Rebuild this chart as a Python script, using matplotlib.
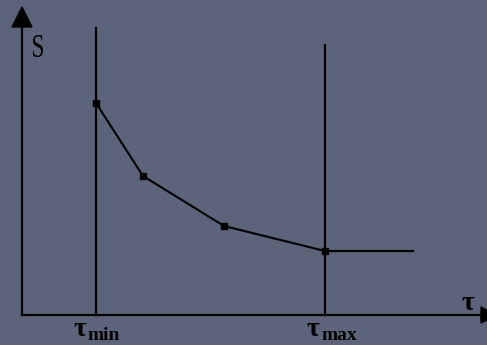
import matplotlib.pyplot as plt
from matplotlib.textpath import TextPath
from matplotlib.patches import PathPatch
from matplotlib.font_manager import FontProperties
from matplotlib.transforms import Affine2D

# data (origin of the drawn axes = (0, 0))
tau = [74, 121, 202, 303]
S = [212, 139, 89, 64]
tau_tail = 391          # horizontal continuation after tau_max
tau_min, tau_max = 74, 303
top_min, top_max = 287, 270

bg = '#5b6478'
serif = 'Liberation Serif'

fig = plt.figure(figsize=(4.87, 3.45), dpi=100, facecolor=bg)
ax = fig.add_axes([0, 0, 1, 1])
ax.set_facecolor(bg)
ax.set_xlim(-22, 465)
ax.set_ylim(-30, 315)
ax.axis('off')

# axes with arrows
ax.plot([0, 462], [0, 0], color='black', lw=1.6)
ax.plot([0, 0], [0, 290], color='black', lw=1.6)
ax.fill([-10, 10, 0], [288, 288, 308], color='black')
ax.fill([459, 459, 475], [-8, 8, 0], color='black')

# tau_min / tau_max verticals
ax.plot([tau_min, tau_min], [0, top_min], color='black', lw=1.6)
ax.plot([tau_max, tau_max], [0, top_max], color='black', lw=1.6)

# curve
ax.plot(tau, S, color='black', lw=1.5, marker='s', ms=4.5)
ax.plot([tau[-1], tau_tail], [S[-1], S[-1]], color='black', lw=1.6)

# tall narrow "S" label
tp = TextPath((0, 0), 'S', size=1, prop=FontProperties(family=serif))
b = tp.get_extents()
x0, x1, y0, y1 = 11, 21, 258, 280
tr = Affine2D().translate(-b.x0, -b.y0).scale((x1 - x0) / b.width, (y1 - y0) / b.height).translate(x0, y0)
ax.add_patch(PathPatch(tr.transform_path(tp), color='black', lw=0))

ax.text(446, 12, 'τ', fontsize=20, family=serif, weight='bold', va='center', ha='center')
ax.text(58, -15, 'τ', fontsize=20, family=serif, weight='bold', va='center', ha='center')
ax.text(66, -21, 'min', fontsize=14, family=serif, weight='bold', va='center', ha='left')
ax.text(291, -15, 'τ', fontsize=20, family=serif, weight='bold', va='center', ha='center')
ax.text(299, -21, 'max', fontsize=14, family=serif, weight='bold', va='center', ha='left')

fig.savefig('out.png', dpi=100, facecolor=bg)
